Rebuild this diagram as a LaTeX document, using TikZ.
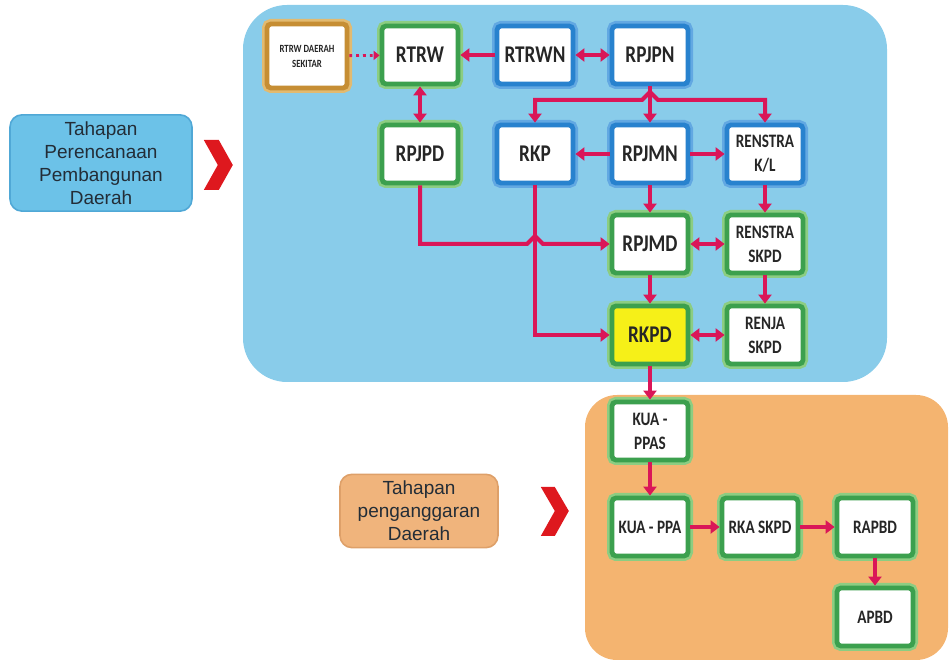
\documentclass[tikz,border=0pt]{standalone}
\usepackage{fontspec}
\setmainfont{Carlito}
\newfontfamily\boxfont{Carlito}[FakeStretch=0.8]
\newfontfamily\labelfont{Liberation Sans}
\usetikzlibrary{calc,arrows.meta}

\definecolor{panelblue}{RGB}{137,204,234}
\definecolor{panelorange}{RGB}{244,180,112}
\definecolor{tagblue}{RGB}{108,194,232}
\definecolor{tagblueedge}{RGB}{80,168,214}
\definecolor{tagorange}{RGB}{240,180,124}
\definecolor{tagorangeedge}{RGB}{222,160,105}
\definecolor{edgegreen}{RGB}{60,160,78}
\definecolor{glowgreen}{RGB}{140,205,130}
\definecolor{edgeblue}{RGB}{40,130,206}
\definecolor{glowblue}{RGB}{98,168,226}
\definecolor{edgegold}{RGB}{198,142,52}
\definecolor{glowgold}{RGB}{226,186,112}
\definecolor{boxyellow}{RGB}{246,240,24}
\definecolor{linkred}{RGB}{218,22,88}
\definecolor{chevred}{RGB}{222,24,30}
\definecolor{textdark}{RGB}{35,45,55}

\tikzset{
  docbox/.style={rectangle, fill=white, line width=2.4pt, rounded corners=2pt,
    minimum width=38pt, minimum height=29pt, align=center, inner sep=1pt,
    font=\boxfont\bfseries\fontsize{12}{13}\selectfont, text=black!85},
  greenbox/.style={docbox, draw=edgegreen, preaction={draw=glowgreen, line width=5pt}},
  bluebox/.style={docbox, draw=edgeblue, preaction={draw=glowblue, line width=5pt}},
  goldbox/.style={docbox, draw=edgegold, preaction={draw=glowgold, line width=5pt},
    minimum width=40pt, minimum height=32pt},
  smalltext/.style={font=\boxfont\bfseries\fontsize{9.5}{12}\selectfont},
  tinytext/.style={font=\boxfont\bfseries\fontsize{5.5}{7.5}\selectfont},
  tag/.style={rectangle, rounded corners=6pt, line width=0.8pt, align=center,
    font=\labelfont\fontsize{9.5}{11.5}\selectfont, text=textdark},
  link/.style={draw=linkred, line width=2pt, -{Triangle[width=6.5pt,length=4.5pt]}},
  twoway/.style={link, {Triangle[width=6.5pt,length=4.5pt]}-{Triangle[width=6.5pt,length=4.5pt]}},
  dotlink/.style={draw=linkred, line width=1.4pt, dotted, -{Triangle[width=4.5pt,length=3pt]}}
}

\begin{document}
\begin{tikzpicture}[x=0.5pt, y=-0.5pt]

        \useasboundingbox (0,0) rectangle (950,662);

        \fill[panelblue, rounded corners=22pt] (243,5) rectangle (887,382);
        \fill[panelorange, rounded corners=16pt] (585,395) rectangle (948,660);

        \node (plantag) [tag, fill=tagblue, draw=tagblueedge, minimum width=91pt, minimum height=47pt] at (101,163) {Tahapan\\Perencanaan\\Pembangunan\\Daerah};
        \node (budgettag) [tag, fill=tagorange, draw=tagorangeedge, minimum width=79pt, minimum height=36pt] at (419,511) {Tahapan\\penganggaran\\Daerah};

        \fill[chevred] ($(plantag.east)+(11,-23)$) -- ++(15,0) -- ++(14,25) -- ++(-14,25) -- ++(-15,0) -- ++(14,-25) -- cycle;
        \fill[chevred] ($(budgettag.east)+(42,-24)$) -- ++(14,0) -- ++(14,24) -- ++(-14,25) -- ++(-14,0) -- ++(14,-25) -- cycle;

        \node (sekitar) [goldbox, tinytext] at (307,56) {RTRW DAERAH\\SEKITAR};
        \node (rtrw) [greenbox] at (420,55) {RTRW};
        \node (rtrwn) [bluebox] at (535,55) {RTRWN};
        \node (rpjpn) [bluebox] at (650,55) {RPJPN};

        \node (rpjpd) [greenbox] at (420,154) {RPJPD};
        \node (rkp) [bluebox] at (535,154) {RKP};
        \node (rpjmn) [bluebox] at (650,154) {RPJMN};
        \node (renstrakl) [bluebox, smalltext] at (765,154) {RENSTRA\\K/L};

        \node (rpjmd) [greenbox] at (650,244) {RPJMD};
        \node (renstraskpd) [greenbox, smalltext] at (765,244) {RENSTRA\\SKPD};
        \node (rkpd) [greenbox, fill=boxyellow] at (650,335) {RKPD};
        \node (renja) [greenbox, smalltext] at (765,335) {RENJA\\SKPD};

        \node (kuappas) [greenbox, smalltext] at (650,431) {KUA -\\PPAS};
        \node (kuappa) [greenbox, smalltext] at (650,527) {KUA - PPA};
        \node (rkaskpd) [greenbox, smalltext] at (760,527) {RKA SKPD};
        \node (rapbd) [greenbox, smalltext] at (875,527) {RAPBD};
        \node (apbd) [greenbox, smalltext] at (875,617) {APBD};

        \draw[dotlink] (sekitar) -- (rtrw);
        \draw[link] (rtrwn) -- (rtrw);
        \draw[twoway] (rtrwn) -- (rpjpn);
        \draw[twoway] (rtrw) -- (rpjpd);

        \coordinate (bus) at (650,100);
        \draw[link] (rpjpn) -- (rpjmn);
        \draw[twoway] (rkp.north) |- ($(bus)+(-8,0)$) -- ++(8,-8) -- ++(8,8) -| (renstrakl.north);
        \draw[link] (rpjmn) -- (rkp);
        \draw[link] (rpjmn) -- (renstrakl);
        \draw[link] (rpjmn) -- (rpjmd);
        \draw[link] (renstrakl) -- (renstraskpd);

        \draw[link] (rpjpd.south) |- ($(rkp.south |- rpjmd.west)+(-8,0)$) -- ++(8,-8) -- ++(8,8) -- (rpjmd.west);
        \draw[link] (rkp.south) |- (rkpd.west);
        \draw[twoway] (rpjmd) -- (renstraskpd);
        \draw[link] (rpjmd) -- (rkpd);
        \draw[link] (renstraskpd) -- (renja);
        \draw[twoway] (rkpd) -- (renja);

        \draw[link] (rkpd) -- (kuappas);
        \draw[link] (kuappas) -- (kuappa);
        \draw[link] (kuappa) -- (rkaskpd);
        \draw[link] (rkaskpd) -- (rapbd);
        \draw[link] (rapbd) -- (apbd);

    \end{tikzpicture}
\end{document}
